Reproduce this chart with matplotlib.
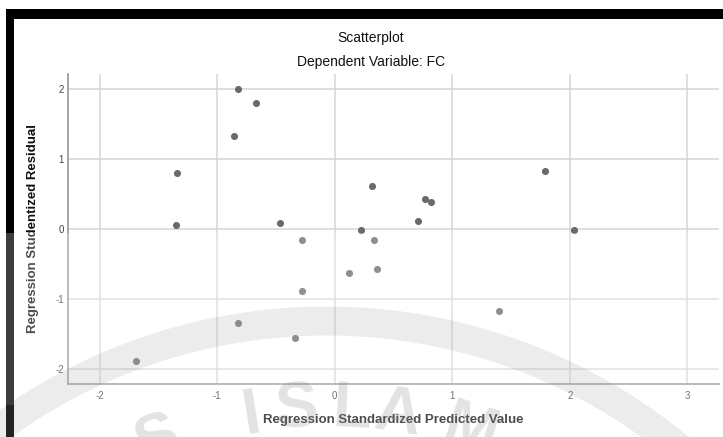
import numpy as np
import matplotlib.pyplot as plt
from matplotlib.patches import Rectangle, Polygon

plt.rcParams['font.family'] = ['Liberation Sans', 'DejaVu Sans']
plt.rcParams['axes.unicode_minus'] = False

W, H = 723, 437

# standardized predicted value vs studentized residual, dependent variable FC
pred = [-0.82, -0.67, -0.86, -1.34, -1.35, -0.47, 0.32, 0.77, 0.82, 0.71, 0.22,
        1.79, -0.28, 0.33, 2.04, 0.12, 0.36, -0.28, 1.40, -0.34, -0.82, -1.69]
resid = [1.99, 1.79, 1.32, 0.80, 0.05, 0.09, 0.62, 0.43, 0.38, 0.12, -0.02,
         0.83, -0.15, -0.16, -0.02, -0.63, -0.57, -0.88, -1.17, -1.56, -1.34, -1.88]
xticks = [-2, -1, 0, 1, 2, 3]
yticks = [-2, -1, 0, 1, 2]


def fx(x):
    return x / W


def fy(y):
    return 1 - y / H


fig = plt.figure(figsize=(W / 100, H / 100), dpi=100)
ax = fig.add_axes([fx(68), fy(384), 651 / W, 310 / H])

ax.scatter(pred, resid, s=26, color='#6a6a6a', linewidths=0, zorder=3)

ax.set_xlim(-2.27, 3.27)
ax.set_ylim(-2.21, 2.21)
ax.set_xticks(xticks)
ax.set_yticks(yticks)
ax.tick_params(length=0, labelsize=7, labelcolor='#444444')
ax.tick_params(axis='x', pad=5)
ax.tick_params(axis='y', pad=3)
ax.grid(True, color='#d6d6d6', linewidth=1.1)
ax.set_axisbelow(True)
for side in ['top', 'right']:
    ax.spines[side].set_visible(False)
for side in ['left', 'bottom']:
    ax.spines[side].set_color('#8c8c8c')
    ax.spines[side].set_linewidth(1.1)

ax.set_xlabel('Regression Standardized Predicted Value', fontsize=9.5,
              fontweight='bold', color='#111111')
ax.xaxis.set_label_coords(0.5, (384 - 420) / 310)
ax.xaxis.label.set_va('center')
ax.set_ylabel('Regression Studentized Residual', fontsize=9.5,
              fontweight='bold', color='#111111')
ax.yaxis.set_label_coords((33 - 68) / 651, 0.5)
ax.yaxis.label.set_va('center')

fig.text(fx(371), fy(38), 'Scatterplot', ha='center', va='center',
         fontsize=10, color='#111111')
fig.text(fx(371), fy(62), 'Dependent Variable: FC', ha='center', va='center',
         fontsize=10, color='#111111')

# faded logo stamped over the lower part of the page
fig.patches.append(Rectangle((0, 0), 1, fy(233), transform=fig.transFigure,
                             facecolor='white', alpha=0.25, edgecolor='none',
                             zorder=5))
cx, cy = 326.5, 874.5
th = np.radians(np.linspace(-40, 50, 200))
outer = [(fx(cx + 568 * np.sin(t)), fy(cy - 568 * np.cos(t))) for t in th]
inner = [(fx(cx + 539 * np.sin(t)), fy(cy - 539 * np.cos(t))) for t in th[::-1]]
fig.patches.append(Polygon(outer + inner, closed=True, transform=fig.transFigure,
                           facecolor='#808080', alpha=0.15, edgecolor='none',
                           zorder=6))
for ch, px in zip('SISLAM', [158, 252, 296, 352, 398, 470]):
    t = np.arcsin((px - cx) / 465)
    fig.text(fx(px), fy(cy - 465 * np.cos(t)), ch, ha='center', va='center',
             rotation=-np.degrees(t), rotation_mode='anchor', fontsize=46,
             fontweight='bold', color='#808080', alpha=0.22, zorder=6)

# page frame
fig.patches.append(Rectangle((fx(6), fy(19)), 1, 10 / H, transform=fig.transFigure,
                             facecolor='black', edgecolor='none', zorder=10))
for y0, y1, c in [(9, 233, '#000000'), (233, 405, '#3c3c3c'), (405, 437, '#232323')]:
    fig.patches.append(Rectangle((fx(6), fy(y1)), 8 / W, (y1 - y0) / H,
                                 transform=fig.transFigure, facecolor=c,
                                 edgecolor='none', zorder=10))

fig.savefig('out.png', dpi=100)
